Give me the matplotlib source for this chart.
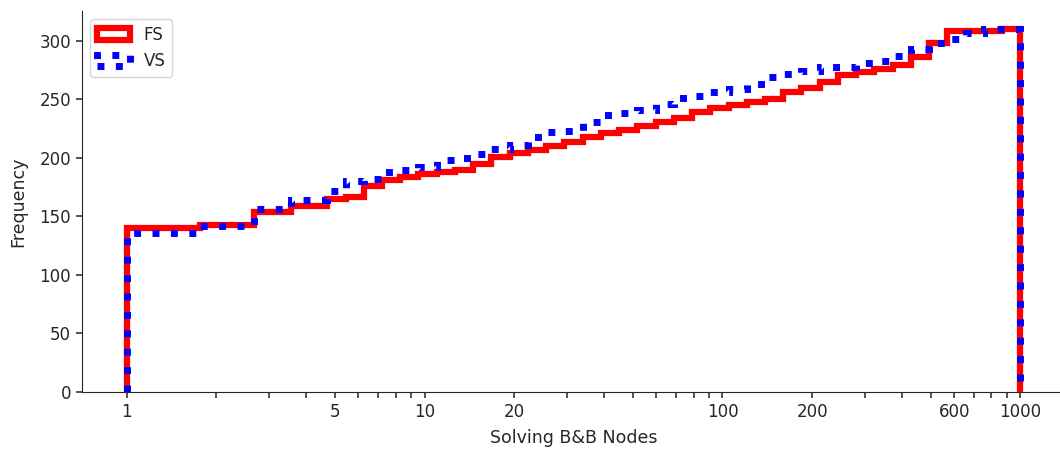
import numpy as np
import matplotlib.pyplot as plt
import seaborn as sns

# log-spaced bins, 1 .. 1000 (49 bins)
bin_edges = np.logspace(0, 3, 50)

fs_cum = [140, 140, 140, 140, 143, 143, 143, 154, 154, 159,
          159, 165, 167, 176, 181, 184, 186, 188, 190, 195,
          201, 204, 207, 210, 214, 218, 221, 224, 227, 231,
          234, 239, 243, 245, 248, 250, 256, 260, 265, 271,
          273, 276, 279, 286, 298, 308, 308, 308, 310]
vs_cum = [136, 136, 136, 136, 142, 142, 142, 156, 156, 164,
          164, 172, 180, 182, 188, 190, 192, 198, 200, 203,
          208, 211, 218, 222, 223, 231, 237, 238, 241, 246,
          251, 253, 256, 259, 263, 269, 272, 274, 278, 278,
          281, 283, 287, 293, 298, 302, 307, 310, 310]

xticks = [1, 5, 10, 20, 100, 200, 600, 1000]
xtick_labels = ["1", "5", "10", "20", "100", "200", "600", "1000"]

sns.set_style("ticks")
plt.rcParams["font.family"] = ["DejaVu Sans"]

fig = plt.figure(figsize=(10.6, 4.51), dpi=100)
ax = fig.add_axes([82 / 1060, 59 / 451, 983 / 1060, 381 / 451])
ax.set_xscale("log")

centers = np.sqrt(bin_edges[:-1] * bin_edges[1:])
fs_w = np.diff(fs_cum, prepend=0)
vs_w = np.diff(vs_cum, prepend=0)

ax.hist(centers, bins=bin_edges, weights=fs_w, cumulative=True,
        histtype="step", color="red", linewidth=4.5, label="FS")
ax.hist(centers, bins=bin_edges, weights=vs_w, cumulative=True,
        histtype="step", color="blue", linewidth=5, linestyle=":", label="VS")

ax.set_xlim(10 ** -0.15, 10 ** 3.15)
ax.set_ylim(0, 325.5)
ax.set_xticks(xticks, xtick_labels)
minor = [m * d for d in (1, 10, 100) for m in range(2, 10) if m * d not in xticks]
ax.set_xticks(minor, minor=True)
ax.tick_params(axis="both", which="both", length=4.5, width=1.1, labelsize=12, color=".15")

ax.set_xlabel("Solving B&B Nodes", fontsize=12.5, color=".15", labelpad=6)
ax.set_ylabel("Frequency", fontsize=12.5, color=".15", labelpad=9)
ax.legend(loc="upper left", fontsize=12)
sns.despine(ax=ax)

fig.savefig("out.png", dpi=100)
